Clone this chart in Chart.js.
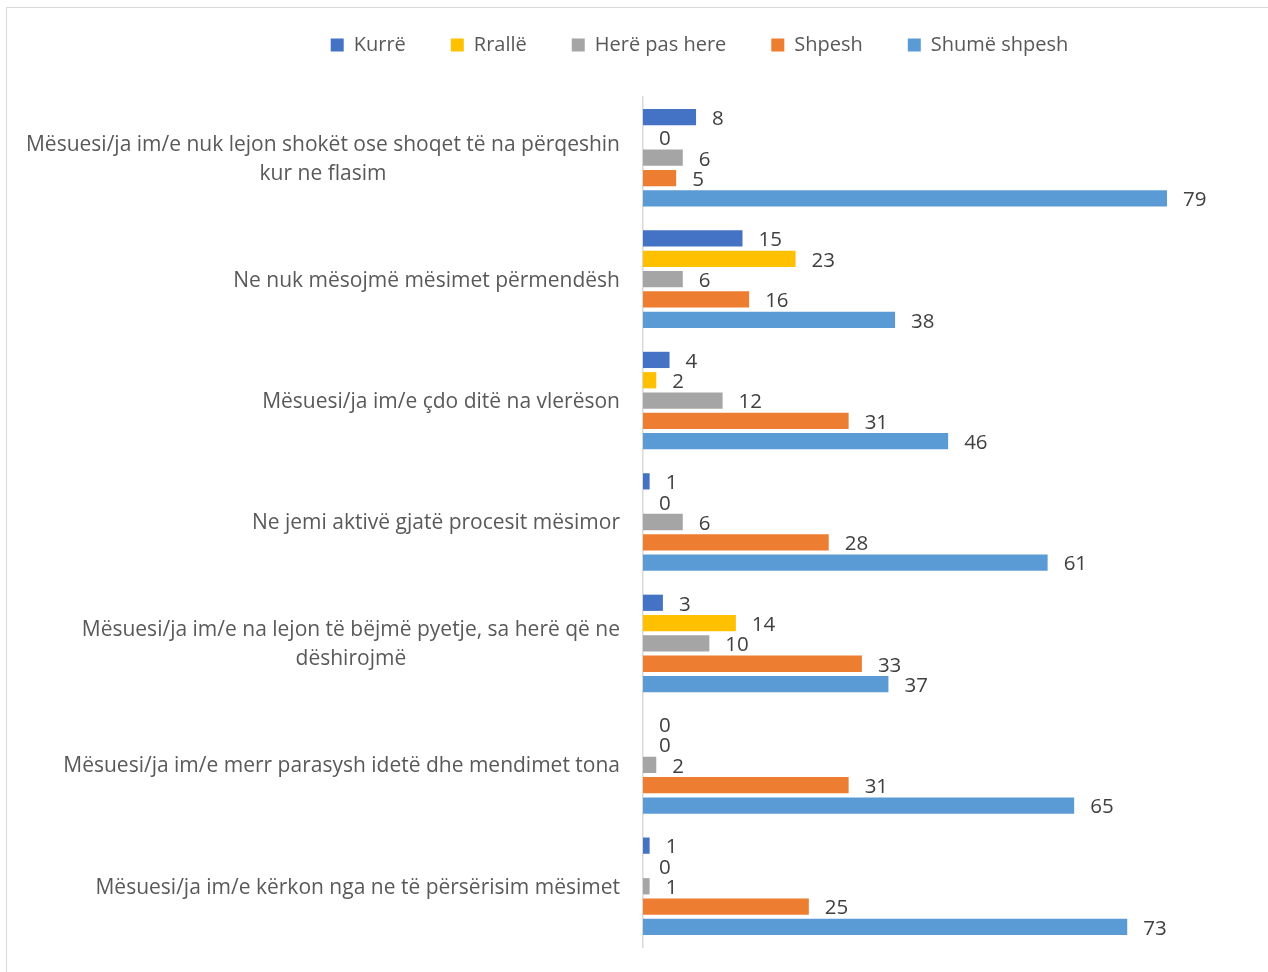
<!DOCTYPE html>
<html lang="sq">
<head>
<meta charset="UTF-8">
<title>Mësuesi/ja</title>
<script src="https://cdn.jsdelivr.net/npm/chart.js"></script>
<style>
  html, body { margin: 0; padding: 0; background: #fff; overflow: hidden; }
  #frame { position: absolute; left: 6px; top: 7px; width: 1300px; height: 1000px; border: 1.5px solid #d9d9d9; }
  #wrap { position: absolute; left: 0; top: -10px; width: 1268px; height: 982px; }
</style>
</head>
<body>
<div id="frame"></div>
<div id="wrap"><canvas id="chart" width="1268" height="982"></canvas></div>

<script>
// kategorite (nga lart poshte)
const categories = [
    ['Mësuesi/ja im/e nuk lejon shokët ose shoqet të na përqeshin', 'kur ne flasim'],
    ['Ne nuk mësojmë mësimet përmendësh'],
    ['Mësuesi/ja im/e çdo ditë na vlerëson'],
    ['Ne jemi aktivë gjatë procesit mësimor'],
    ['Mësuesi/ja im/e na lejon të bëjmë pyetje, sa herë që ne', 'dëshirojmë'],
    ['Mësuesi/ja im/e merr parasysh idetë dhe mendimet tona'],
    ['Mësuesi/ja im/e kërkon nga ne të përsërisim mësimet']
];

const kurre       = [8, 15, 4, 1, 3, 0, 1];
const ralle       = [0, 23, 2, 0, 14, 0, 0];
const herePasHere = [6, 6, 12, 6, 10, 2, 1];
const shpesh      = [5, 16, 31, 28, 33, 31, 25];
const shumeShpesh = [79, 38, 46, 61, 37, 65, 73];

const FONT = '"Open Sans", sans-serif';

// vlerat ne fund te shtyllave
const valueLabels = {
    id: 'valueLabels',
    afterDatasetsDraw(chart) {
        const ctx = chart.ctx;
        ctx.save();
        ctx.font = '20.5px ' + FONT;
        ctx.fillStyle = '#404040';
        ctx.textAlign = 'left';
        ctx.textBaseline = 'middle';
        chart.data.datasets.forEach((ds, i) => {
            chart.getDatasetMeta(i).data.forEach((bar, j) => {
                ctx.fillText(String(ds.data[j]), bar.x + 16, bar.y + 2);
            });
        });
        ctx.restore();
    }
};

// etiketat e kategorive: djathtas, rreshti i dyte ne qender te bllokut
const categoryLabels = {
    id: 'categoryLabels',
    afterDraw(chart) {
        const ctx = chart.ctx;
        const y = chart.scales.y;
        const right = chart.chartArea.left - 23;
        const lh = 29;
        ctx.save();
        ctx.font = '21px ' + FONT;
        ctx.fillStyle = '#595959';
        ctx.textBaseline = 'middle';
        ctx.textAlign = 'center';
        categories.forEach((lines, i) => {
            const cy = y.getPixelForTick(i) + 1.5;
            const w = Math.max(...lines.map(l => ctx.measureText(l).width));
            const cx = right - w / 2;
            const y0 = cy - (lines.length - 1) * lh / 2;
            lines.forEach((l, k) => ctx.fillText(l, cx, y0 + k * lh));
        });
        ctx.restore();
    }
};

const legendHeight = {
    id: 'legendHeight',
    beforeInit(chart) {
        const fit = chart.legend.fit;
        chart.legend.fit = function () {
            fit.bind(chart.legend)();
            this.height = 107;
        };
    }
};

new Chart(document.getElementById('chart'), {
    type: 'bar',
    data: {
        labels: categories.map(c => c.join(' ')),
        datasets: [
            { label: 'Kurrë', data: kurre, backgroundColor: '#4472C4' },
            { label: 'Rrallë', data: ralle, backgroundColor: '#FFC000' },
            { label: 'Herë pas here', data: herePasHere, backgroundColor: '#A5A5A5' },
            { label: 'Shpesh', data: shpesh, backgroundColor: '#ED7D31' },
            { label: 'Shumë shpesh', data: shumeShpesh, backgroundColor: '#5B9BD5' }
        ]
    },
    options: {
        indexAxis: 'y',
        responsive: false,
        animation: false,
        categoryPercentage: 0.837,
        barPercentage: 0.8,
        layout: { padding: { left: 159, right: 28, top: 0, bottom: 25 } },
        plugins: {
            legend: {
                position: 'top',
                labels: {
                    boxWidth: 13,
                    boxHeight: 13,
                    padding: 45,
                    color: '#595959',
                    font: { family: FONT, size: 20 }
                }
            },
            tooltip: { enabled: false }
        },
        scales: {
            x: { display: false, min: 0, max: 90 },
            y: {
                grid: { display: false },
                border: { display: true, color: '#d9d9d9', width: 1.5 },
                ticks: { display: false },
                afterFit(scale) { scale.width = 484; }
            }
        }
    },
    plugins: [valueLabels, categoryLabels, legendHeight]
});
</script>
</body>
</html>
